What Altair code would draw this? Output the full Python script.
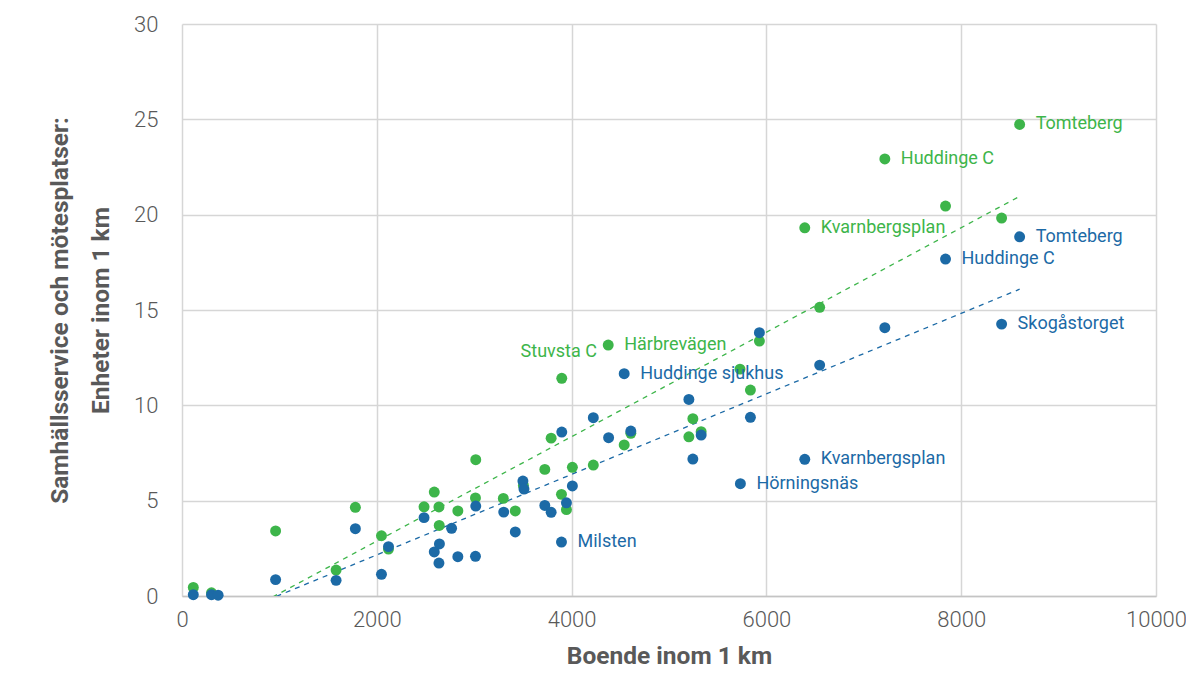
import altair as alt
import pandas as pd

# Green series
green_x = [116, 303, 961, 1582, 1780, 2048, 2120, 2485, 2590, 2638, 2641, 2832, 3013, 3016, 3299,
           3422, 3505, 3725, 3790, 3896, 3899, 3947, 4008, 4223, 4376, 4540, 4608, 5204, 5245, 5330,
           5729, 5836, 5928, 6394, 6547, 7216, 7839, 8415, 8600]
green_y = [0.45, 0.17, 3.41, 1.36, 4.65, 3.16, 2.46, 4.68, 5.45, 4.67, 3.7, 4.46, 5.14, 7.15, 5.12,
           4.46, 5.8, 6.64, 8.28, 5.33, 11.42, 4.53, 6.75, 6.87, 13.16, 7.92, 8.53, 8.35, 9.3, 8.62,
           11.9, 10.8, 13.37, 19.31, 15.14, 22.92, 20.45, 19.82, 24.73]

# Blue series
blue_x = [116, 303, 371, 961, 1582, 1780, 2048, 2120, 2485, 2590, 2643, 2638, 2768, 2832, 3016,
          3013, 3303, 3422, 3500, 3511, 3725, 3790, 3899, 3896, 3947, 4008, 4223, 4380, 4540, 4608,
          5204, 5245, 5330, 5733, 5836, 5928, 6394, 6547, 7216, 7839, 8415, 8600]
blue_y = [0.07, 0.07, 0.04, 0.86, 0.82, 3.53, 1.14, 2.59, 4.11, 2.31, 2.73, 1.73, 3.55, 2.06, 4.72,
          2.08, 4.4, 3.36, 6.03, 5.61, 4.75, 4.39, 8.6, 2.83, 4.89, 5.77, 9.35, 8.3, 11.66, 8.65,
          10.31, 7.18, 8.44, 5.89, 9.37, 13.81, 7.17, 12.11, 14.07, 17.67, 14.26, 18.84]

# Point labels (series, x, label)
label_series = ["grön", "grön", "grön", "grön",
                "blå", "blå", "blå", "blå", "blå", "blå", "blå"]
label_x = [8600, 7216, 6394, 4376,
           8600, 7839, 8415, 4540, 6394, 5733, 3896]
label_text = ["Tomteberg", "Huddinge C", "Kvarnbergsplan", "Härbrevägen",
              "Tomteberg", "Huddinge C", "Skogåstorget", "Huddinge sjukhus",
              "Kvarnbergsplan", "Hörningsnäs", "Milsten"]
above_label = {"series": "grön", "x": 3899, "text": "Stuvsta C"}

GREEN = "#3db54a"
BLUE = "#1c6aa6"
GREEN_TXT = "#2fb150"
BLUE_TXT = "#1f72b2"
FONT = "Roboto"

rows = [{"series": "grön", "x": x, "y": y} for x, y in zip(green_x, green_y)]
rows += [{"series": "blå", "x": x, "y": y} for x, y in zip(blue_x, blue_y)]
df = pd.DataFrame(rows)

lookup = {(r["series"], r["x"]): r["y"] for r in rows}
lab = pd.DataFrame({
    "series": label_series,
    "x": label_x,
    "y": [lookup[(s, x)] for s, x in zip(label_series, label_x)],
    "text": label_text,
})
lab_above = pd.DataFrame([{
    "series": above_label["series"], "x": above_label["x"],
    "y": lookup[(above_label["series"], above_label["x"])], "text": above_label["text"],
}])

xenc = alt.X("x:Q", scale=alt.Scale(domain=[0, 10000], nice=False),
             axis=alt.Axis(title="Boende inom 1 km", values=[0, 2000, 4000, 6000, 8000, 10000],
                           format="d", labelPadding=13, titlePadding=14, labelFlush=False))
yenc = alt.Y("y:Q", scale=alt.Scale(domain=[0, 30], nice=False),
             axis=alt.Axis(title=["Samhällsservice och mötesplatser:", "Enheter inom 1 km"],
                           values=[0, 5, 10, 15, 20, 25, 30], labelPadding=24, titlePadding=20,
                           titleLineHeight=41))

col = alt.Color("series:N", scale=alt.Scale(domain=["grön", "blå"], range=[GREEN, BLUE]), legend=None)
tcol = alt.Color("series:N", scale=alt.Scale(domain=["grön", "blå"], range=[GREEN_TXT, BLUE_TXT]), legend=None)

trend = alt.Chart(df).transform_regression(
    "x", "y", groupby=["series"]
).mark_line(strokeDash=[5, 5], strokeWidth=1.3, clip=True).encode(x=xenc, y=yenc, color=col)

pts_g = alt.Chart(df[df.series == "grön"]).mark_circle(size=120, opacity=1).encode(x=xenc, y=yenc, color=col)
pts_b = alt.Chart(df[df.series == "blå"]).mark_circle(size=120, opacity=1).encode(x=xenc, y=yenc, color=col)

labels = alt.Chart(lab).mark_text(align="left", baseline="middle", dx=16, fontSize=18, font=FONT).encode(
    x=xenc, y=yenc, text="text:N", color=tcol)
labels2 = alt.Chart(lab_above).mark_text(align="center", baseline="middle", dx=-3, dy=-26, fontSize=18, font=FONT).encode(
    x=xenc, y=yenc, text="text:N", color=tcol)

chart = alt.layer(trend, pts_g, pts_b, labels, labels2).properties(
    width=974, height=572,
    autosize=alt.AutoSizeParams(type="none"),
    padding={"left": 174, "top": 16, "right": 30, "bottom": 74},
).configure_view(stroke=None).configure_axis(
    labelFont=FONT, labelFontSize=22, labelFontWeight=300, labelColor="#595959",
    titleFont=FONT, titleFontSize=24.5, titleFontWeight="bold", titleColor="#595959",
    gridColor="#d6d6d6", gridWidth=1.5, domainColor="#c4c4c4", domainWidth=1.5,
    ticks=False,
).configure_axisY(domain=False)

chart.save("out.html", embed_options={"renderer": "svg", "actions": False})
